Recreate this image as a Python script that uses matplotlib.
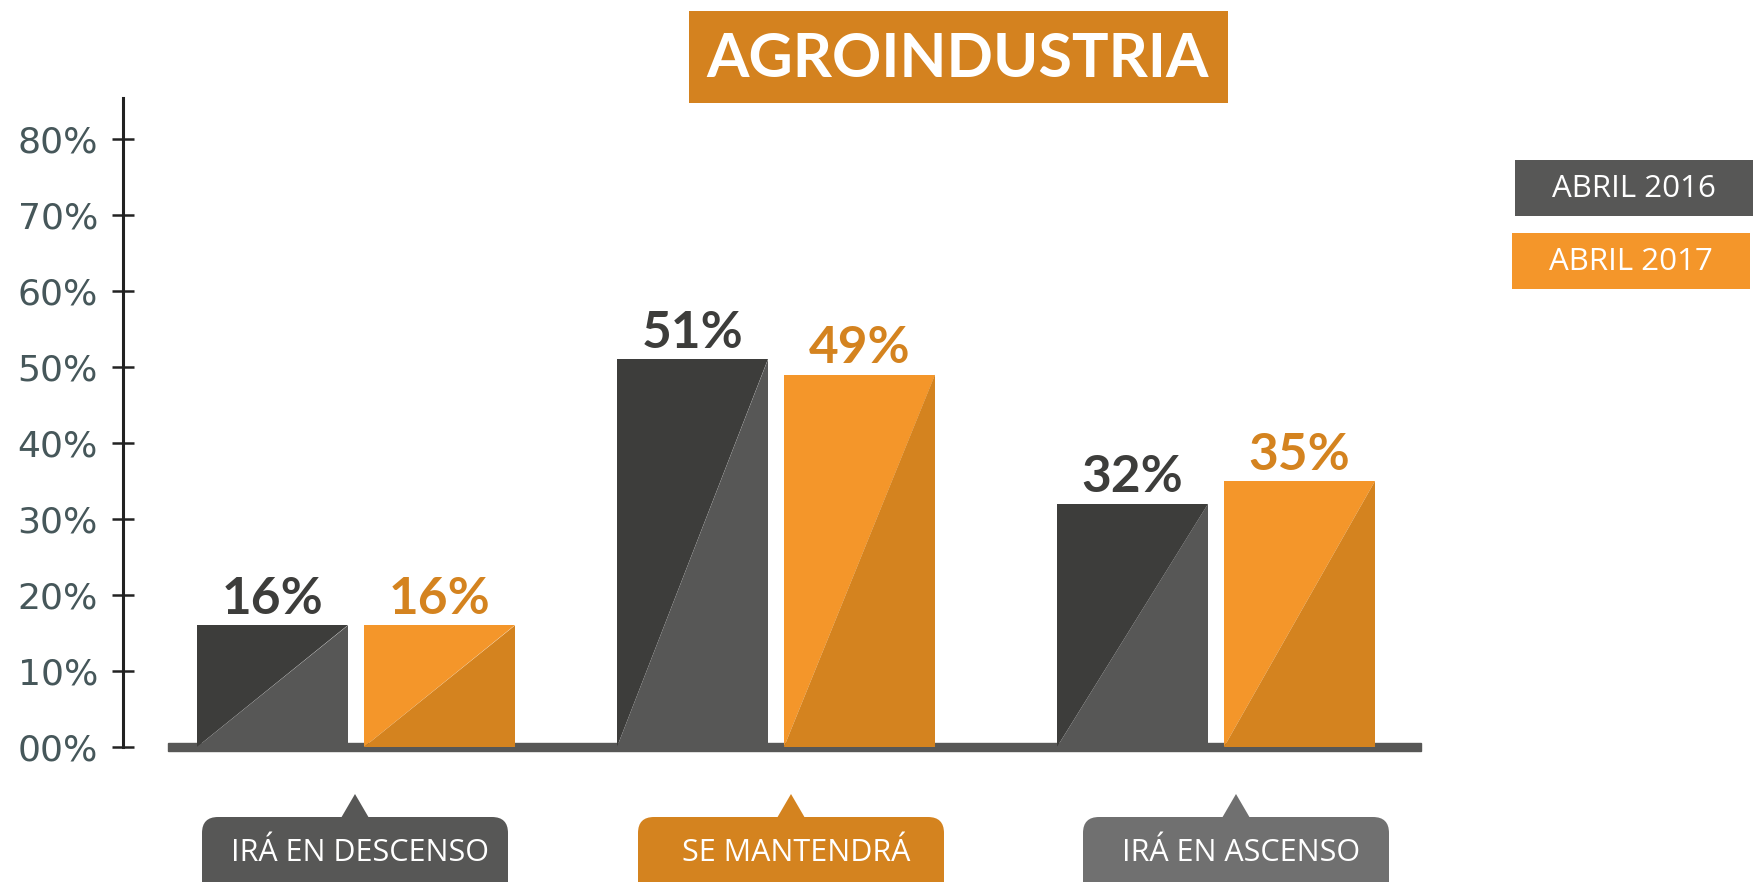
"""Agroindustria: expectativas abril 2016 vs abril 2017."""

import matplotlib

matplotlib.use("Agg")
import matplotlib.pyplot as plt
from matplotlib.patches import FancyBboxPatch, Polygon, Rectangle

# --- data -------------------------------------------------------------
categories = ["IRÁ EN DESCENSO", "SE MANTENDRÁ", "IRÁ EN ASCENSO"]
series_names = ["ABRIL 2016", "ABRIL 2017"]
values_2016 = [16, 51, 32]
values_2017 = [16, 49, 35]
yticks = [0, 10, 20, 30, 40, 50, 60, 70, 80]
ytick_labels = ["00%", "10%", "20%", "30%", "40%", "50%", "60%", "70%", "80%"]
title = "AGROINDUSTRIA"

# --- styling ----------------------------------------------------------
W, H = 1754, 882
DARK_TOP, DARK_LOW = "#3d3d3b", "#575756"
ORANGE_TOP, ORANGE_LOW = "#f4962a", "#d4831f"
TITLE_BG = "#d4821f"
BOX_COLORS = ["#575756", "#d4831f", "#707070"]
TICK_COLOR = "#46575a"

group_centers = [356, 776, 1216]      # pixel x of each pair
box_centers = [355, 791, 1236]         # pixel x of category callouts
bar_w, bar_gap = 151, 16

fig = plt.figure(figsize=(W / 100, H / 100), dpi=100)
fig.patch.set_facecolor("white")

# main axes: x in pixels, y in percent
y0_px, ytop_px = 747, 98
ax = fig.add_axes([0, (H - y0_px) / H, 1, (y0_px - ytop_px) / H])
ax.set_xlim(0, W)
ax.set_ylim(0, (y0_px - ytop_px) / 7.6)
ax.patch.set_visible(False)
for s in ["top", "right", "bottom"]:
    ax.spines[s].set_visible(False)
ax.spines["left"].set_position(("data", 123))
ax.spines["left"].set_linewidth(2.2)
ax.spines["left"].set_color("#222222")
ax.set_xticks([])
ax.set_yticks(yticks)
ax.set_yticklabels(ytick_labels, fontsize=26, color=TICK_COLOR,
                   family="DejaVu Sans")
ax.tick_params(axis="y", direction="inout", length=16, width=1.8,
               color="#222222", pad=10)

# baseline strip
ax.add_patch(Rectangle((168, -0.55), 1421 - 168, 1.05, color=DARK_LOW,
                       clip_on=False, zorder=1))


def draw_bar(x0, h, top_col, low_col, label_col):
    x1 = x0 + bar_w
    ax.add_patch(Polygon([(x0, 0), (x0, h), (x1, h)], closed=True,
                         color=top_col, lw=0, zorder=2))
    ax.add_patch(Polygon([(x0, 0), (x1, h), (x1, 0)], closed=True,
                         color=low_col, lw=0, zorder=2))
    ax.text(x0 + bar_w / 2, h + 1.5, f"{h}%", ha="center", va="baseline",
            fontsize=37, fontweight="bold", family="Lato", color=label_col,
            zorder=3)


for c, v16, v17 in zip(group_centers, values_2016, values_2017):
    draw_bar(c - bar_gap / 2 - bar_w, v16, DARK_TOP, DARK_LOW, DARK_TOP)
    draw_bar(c + bar_gap / 2, v17, ORANGE_TOP, ORANGE_LOW, ORANGE_LOW)

# overlay axes in pixel coordinates for title, legend, callouts
ov = fig.add_axes([0, 0, 1, 1])
ov.set_xlim(0, W)
ov.set_ylim(H, 0)
ov.axis("off")
ov.patch.set_visible(False)

ov.add_patch(Rectangle((689, 11), 539, 92, color=TITLE_BG, lw=0))
ov.text(958, 59, title, ha="center", va="center", fontsize=44,
        fontweight="bold", family="Lato", color="white")

legend_boxes = [((1515, 160), DARK_LOW), ((1512, 233), ORANGE_TOP)]
for name, ((lx, ly), col) in zip(series_names, legend_boxes):
    ov.add_patch(Rectangle((lx, ly), 238, 56, color=col, lw=0))
    ov.text(lx + 119, ly + 29, name, ha="center", va="center", fontsize=22.5,
            family="Open Sans", color="white")

for name, cx, col in zip(categories, box_centers, BOX_COLORS):
    ov.add_patch(FancyBboxPatch((cx - 153, 817), 306, 90,
                                boxstyle="round,pad=0,rounding_size=16",
                                color=col, lw=0, clip_on=False))
    ov.add_patch(Polygon([(cx - 14, 818), (cx, 794), (cx + 14, 818)],
                         closed=True, color=col, lw=0))
    ov.text(cx + 5, 853, name, ha="center", va="center", fontsize=22,
            family="Open Sans", color="white")

fig.savefig("out.png", dpi=100)
